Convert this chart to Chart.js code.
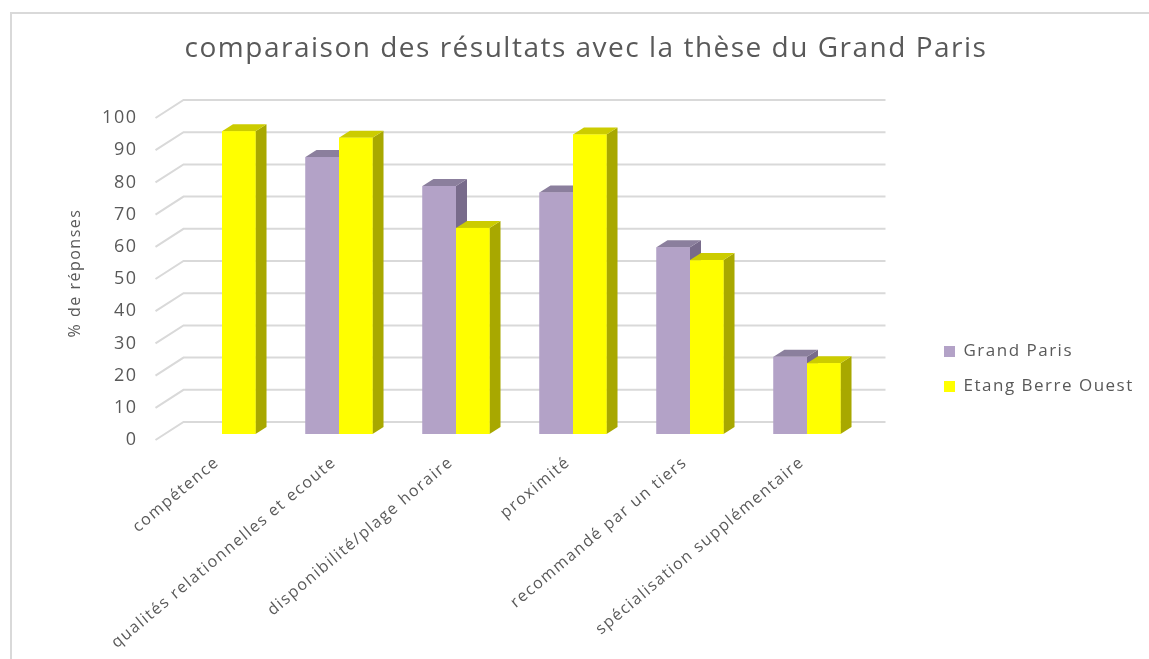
<!DOCTYPE html>
<html>
<head>
<meta charset="utf-8">
<script src="https://cdn.jsdelivr.net/npm/chart.js@4"></script>
<style>
   body { margin: 0; background: #fff; }
   #wrap { position: relative; width: 1149px; height: 659px; overflow: hidden; }
   #frame { position: absolute; left: 10px; top: 12px; right: -4px; bottom: -4px; border-left: 2px solid #d9d9d9; border-top: 2px solid #d9d9d9; }
   canvas { position: absolute; left: 0; top: 0; }
</style>
</head>
<body>
<div id="wrap">
   <div id="frame"></div>
   <canvas id="myChart" width="1149" height="659"></canvas>
</div>
<script>
const categories = ['compétence', 'qualités relationnelles et ecoute', 'disponibilité/plage horaire', 'proximité', 'recommandé par un tiers', 'spécialisation supplémentaire'];
const grandParis = [0, 86, 77, 75, 58, 24];
const etangBerreOuest = [94, 92, 64, 93, 54, 22];
const seriesNames = ['Grand Paris', 'Etang Berre Ouest'];
const yMin = 0, yMax = 100, yStep = 10;

const FONT = '"Open Sans", "Noto Sans", sans-serif';
const TXT = '#595959';
const faces = [
   { front: '#b3a2c7', top: '#8b7f9d', side: '#786b8b' },
   { front: '#ffff00', top: '#cccc00', side: '#a8a800' }
];
const depth = { dx: 11, dy: -7 };         // profondeur des barres
const wall = { dx: 28, dy: -18, off: 6 }; // mur du fond / sol

// texte un peu plus large (comme l'original)
const spacing = {
   id: 'spacing',
   beforeDraw(chart) { chart.ctx.letterSpacing = '1.5px'; },
   afterDraw(chart) { chart.ctx.letterSpacing = '0px'; }
};

// grille en perspective (sol + mur du fond)
const grid3d = {
   id: 'grid3d',
   beforeDatasetsDraw(chart) {
      const ctx = chart.ctx, ys = chart.scales.y, a = chart.chartArea;
      ctx.save();
      ctx.strokeStyle = '#d9d9d9';
      ctx.lineWidth = 2;
      ys.ticks.forEach(t => {
         const yf = ys.getPixelForValue(t.value) + wall.off;
         const xf = a.left - (wall.dx - 20);
         ctx.beginPath();
         ctx.moveTo(xf, yf);
         ctx.lineTo(xf + wall.dx, yf + wall.dy);
         ctx.lineTo(a.right + 20, yf + wall.dy);
         ctx.stroke();
      });
      ctx.restore();
   }
};

// faces dessus / côté des barres
const bars3d = {
   id: 'bars3d',
   afterDatasetsDraw(chart) {
      const ctx = chart.ctx;
      ctx.save();
      categories.forEach((c, i) => {
         chart.data.datasets.forEach((ds, d) => {
            if (!ds.data[i]) return;
            const bar = chart.getDatasetMeta(d).data[i];
            const { x, y, base, width } = bar.getProps(['x', 'y', 'base', 'width'], true);
            const l = x - width / 2, r = x + width / 2;
            ctx.fillStyle = faces[d].side;
            ctx.beginPath();
            ctx.moveTo(r, base); ctx.lineTo(r + depth.dx, base + depth.dy);
            ctx.lineTo(r + depth.dx, y + depth.dy); ctx.lineTo(r, y);
            ctx.closePath(); ctx.fill();
            ctx.fillStyle = faces[d].top;
            ctx.beginPath();
            ctx.moveTo(l, y); ctx.lineTo(l + depth.dx, y + depth.dy);
            ctx.lineTo(r + depth.dx, y + depth.dy); ctx.lineTo(r, y);
            ctx.closePath(); ctx.fill();
            ctx.fillStyle = faces[d].front;
            ctx.fillRect(l, y, width, base - y);
         });
      });
      ctx.restore();
   }
};

// place la légende comme dans l'original
const legendPos = {
   id: 'legendPos',
   afterLayout(chart) {
      const lg = chart.legend, p = lg.options.labels.padding;
      lg.left = 944 - p; lg.right = chart.width; lg.width = lg.right - lg.left;
      lg.top = 325; lg.bottom = lg.top + 120; lg.height = 120;
   }
};

const ctx = document.getElementById('myChart').getContext('2d');
new Chart(ctx, {
   type: 'bar',
   data: {
      labels: categories,
      datasets: [
         { label: seriesNames[0], data: grandParis, backgroundColor: faces[0].front, borderWidth: 0 },
         { label: seriesNames[1], data: etangBerreOuest, backgroundColor: faces[1].front, borderWidth: 0 }
      ]
   },
   options: {
      responsive: false,
      animation: false,
      events: [],
      layout: { padding: { left: 23, right: 0, top: 0, bottom: 1 } },
      datasets: { bar: { barPercentage: 1, categoryPercentage: 0.573 } },
      scales: {
         x: {
            ticks: { autoSkip: false, minRotation: 40, maxRotation: 40, padding: 19, labelOffset: -5, color: TXT, font: { family: FONT, size: 16 } },
            grid: { display: false, drawTicks: false },
            border: { display: false },
            afterFit: s => { s.height = 224; }
         },
         y: {
            min: yMin, max: yMax,
            ticks: { stepSize: yStep, padding: 26, labelOffset: 6, color: TXT, font: { family: FONT, size: 18 } },
            grid: { display: false, drawTicks: false },
            border: { display: false },
            title: { display: true, text: '% de réponses', color: TXT, font: { family: FONT, size: 16 }, padding: { top: 43, bottom: 0 } },
            afterFit: s => { s.width = 140.5; }
         },
         yR: {
            position: 'right',
            ticks: { display: false },
            grid: { display: false, drawTicks: false },
            border: { display: false },
            afterFit: s => { s.width = 133.5; }
         }
      },
      plugins: {
         title: {
            display: true,
            text: 'comparaison des résultats avec la thèse du Grand Paris',
            color: TXT,
            font: { family: FONT, size: 28, weight: 'normal' },
            padding: { top: 32, bottom: 46.4 }
         },
         legend: {
            position: 'right',
            align: 'start',
            maxWidth: 150,
            labels: { boxWidth: 11, boxHeight: 11, padding: 18, color: TXT, font: { family: FONT, size: 17 } }
         },
         tooltip: { enabled: false }
      }
   },
   plugins: [spacing, grid3d, bars3d, legendPos]
});
</script>
</body>
</html>
